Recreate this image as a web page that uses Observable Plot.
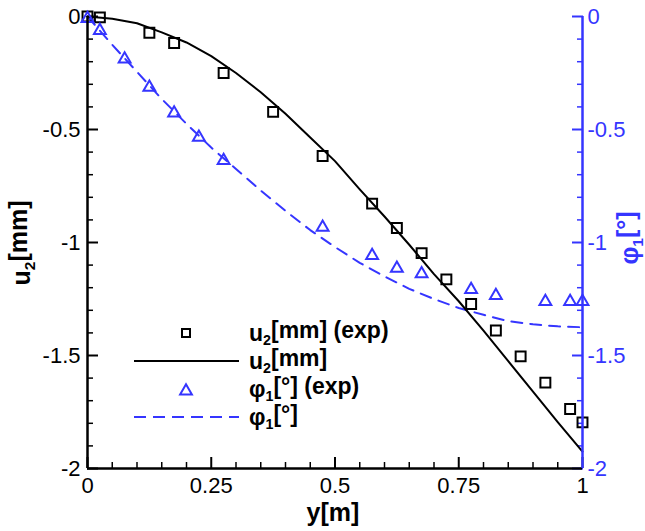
<!DOCTYPE html>
<html><head><meta charset="utf-8">
<script src="https://cdn.jsdelivr.net/npm/d3@7"></script>
<script src="https://cdn.jsdelivr.net/npm/@observablehq/plot@0.6"></script>
<style>
body{margin:0;background:#fff;}
svg{font-family:"Liberation Sans",Arial,sans-serif;}
</style>
</head><body><div id="chart"></div>
<script>
// ---- tick definitions ----
const xTicks = [0, 0.25, 0.5, 0.75, 1];
const xTickLabels = ["0", "0.25", "0.5", "0.75", "1"];
const xMinorTicks = [0.05, 0.1, 0.15, 0.2, 0.3, 0.35, 0.4, 0.45, 0.55, 0.6, 0.65, 0.7, 0.8, 0.85, 0.9, 0.95];
const yTicks = [0, -0.5, -1, -1.5, -2];
const yTickLabels = ["0", "-0.5", "-1", "-1.5", "-2"];
const yMinorTicks = [-0.1, -0.2, -0.3, -0.4, -0.6, -0.7, -0.8, -0.9, -1.1, -1.2, -1.3, -1.4, -1.6, -1.7, -1.8, -1.9];

// ---- experimental u2 [mm] (squares) ----
const u2ExpY = [0, 0.025, 0.125, 0.175, 0.275, 0.375, 0.475, 0.575, 0.625, 0.675, 0.725, 0.775, 0.825, 0.875, 0.925, 0.975, 1.0];
const u2ExpV = [0, -0.004, -0.072, -0.117, -0.25, -0.422, -0.617, -0.828, -0.936, -1.047, -1.163, -1.272, -1.389, -1.504, -1.62, -1.737, -1.796];

// ---- experimental phi1 [deg] (triangles) ----
const phiExpY = [0, 0.025, 0.075, 0.125, 0.175, 0.225, 0.275, 0.475, 0.575, 0.625, 0.675, 0.775, 0.825, 0.925, 0.975, 1.0];
const phiExpV = [0, -0.053, -0.18, -0.305, -0.418, -0.526, -0.629, -0.924, -1.049, -1.105, -1.13, -1.2, -1.226, -1.253, -1.253, -1.253];

// ---- model curves ----
const modelY = [0, 0.05, 0.1, 0.15, 0.2, 0.25, 0.3, 0.35, 0.4, 0.45, 0.5, 0.55, 0.6, 0.65, 0.7, 0.75, 0.8, 0.85, 0.9, 0.95, 1.0];
const modelU2 = [0, -0.01, -0.03, -0.07, -0.115, -0.175, -0.25, -0.335, -0.43, -0.535, -0.64, -0.765, -0.885, -1.01, -1.14, -1.26, -1.39, -1.525, -1.66, -1.795, -1.925];
const modelPhi = [0, -0.125, -0.245, -0.365, -0.475, -0.58, -0.675, -0.77, -0.86, -0.945, -1.02, -1.09, -1.15, -1.205, -1.25, -1.29, -1.32, -1.348, -1.362, -1.371, -1.375];

const BLUE = "#3535ff";

const u2Exp = u2ExpY.map((y, i) => ({y, v: u2ExpV[i]}));
const phiExp = phiExpY.map((y, i) => ({y, v: phiExpV[i]}));
const model = modelY.map((y, i) => ({y, u2: modelU2[i], phi: modelPhi[i]}));

const fmt = (ticks, labels) => d => { const i = ticks.findIndex(t => Math.abs(t - d) < 1e-9); return i >= 0 ? labels[i] : ""; };

const plot = Plot.plot({
  width: 645,
  height: 531,
  marginLeft: 87,
  marginRight: 63,
  marginTop: 16,
  marginBottom: 63,
  style: {fontFamily: "Liberation Sans, Arial, sans-serif", background: "#fff", overflow: "visible"},
  x: {domain: [0, 1]},
  y: {domain: [-2, 0]},
  marks: [
    // minor ticks
    Plot.axisY(yMinorTicks, {anchor: "left", tickSize: -6, tickFormat: () => "", label: null, strokeWidth: 1.5}),
    Plot.axisY(yMinorTicks, {anchor: "right", tickSize: -6, tickFormat: () => "", label: null, color: BLUE, strokeWidth: 1.5}),
    Plot.axisX(xMinorTicks, {anchor: "bottom", tickSize: -6, tickFormat: () => "", label: null, strokeWidth: 1.5}),
    // major ticks + labels
    Plot.axisY(yTicks, {anchor: "left", tickSize: -11, tickPadding: 18, tickFormat: fmt(yTicks, yTickLabels), label: null, fontSize: 22, strokeWidth: 2}),
    Plot.axisY(yTicks, {anchor: "right", tickSize: -11, tickPadding: 16, tickFormat: fmt(yTicks, yTickLabels), label: null, fontSize: 22, color: BLUE, strokeWidth: 2}),
    Plot.axisX(xTicks, {anchor: "bottom", tickSize: -11, tickPadding: 20, tickFormat: fmt(xTicks, xTickLabels), label: null, fontSize: 22, strokeWidth: 2}),
    // model curves
    Plot.line(model, {x: "y", y: "phi", stroke: BLUE, strokeWidth: 2, strokeDasharray: "11,8"}),
    Plot.line(model, {x: "y", y: "u2", stroke: "black", strokeWidth: 2}),
    // experimental points
    Plot.dot(u2Exp, {x: "y", y: "v", symbol: "square", r: 5.6, stroke: "black", strokeWidth: 2, fill: "none"}),
    Plot.dot(phiExp, {x: "y", y: "v", symbol: "triangle", r: 4.4, stroke: BLUE, strokeWidth: 2, fill: "none", dy: 2}),
    // frame lines
    Plot.ruleX([0], {stroke: "black", strokeWidth: 2.5}),
    Plot.ruleY([-2], {stroke: "black", strokeWidth: 2.5}),
    Plot.ruleX([1], {stroke: BLUE, strokeWidth: 2.5})
  ]
});

document.getElementById("chart").appendChild(plot);

// ---- titles and legend ----
const svg = d3.select(plot);
function richText(g, parts, attrs) {
  const t = g.append("text");
  for (const [k, v] of Object.entries(attrs)) t.attr(k, v);
  parts.forEach(p => {
    const s = t.append("tspan").text(p.t);
    if (p.sub) s.attr("font-size", "62%").attr("dy", "0.3em");
    if (p.after) s.attr("dy", "-0.3em");
  });
  return t;
}
const u2Label = [{t: "u"}, {t: "2", sub: true}, {t: "[mm]", after: true}];
const phiLabel = [{t: "φ"}, {t: "1", sub: true}, {t: "[°]", after: true}];

richText(svg, u2Label, {transform: "translate(30,243) rotate(-90)", "text-anchor": "middle", "font-weight": "bold", "font-size": 25, fill: "black"});
richText(svg, phiLabel, {transform: "translate(638,238) rotate(-90)", "text-anchor": "middle", "font-weight": "bold", "font-size": 25, fill: BLUE});
svg.append("text").attr("x", 333).attr("y", 521).attr("text-anchor", "middle").attr("font-weight", "bold").attr("font-size", 25).text("y[m]");

// legend
const legendEntries = [
  {parts: [{t: "u"}, {t: "2", sub: true}, {t: "[mm] (exp)", after: true}], kind: "square"},
  {parts: [{t: "u"}, {t: "2", sub: true}, {t: "[mm]", after: true}], kind: "solid"},
  {parts: [{t: "φ"}, {t: "1", sub: true}, {t: "[°] (exp)", after: true}], kind: "triangle"},
  {parts: [{t: "φ"}, {t: "1", sub: true}, {t: "[°]", after: true}], kind: "dashed"}
];
const lg = svg.append("g").attr("text-anchor", "start");
legendEntries.forEach((e, i) => {
  const cy = 333 + i * 28;
  if (e.kind === "square") lg.append("rect").attr("x", 182).attr("y", cy - 4).attr("width", 8).attr("height", 8).attr("fill", "none").attr("stroke", "black").attr("stroke-width", 2);
  if (e.kind === "triangle") lg.append("path").attr("d", d3.symbol(d3.symbolTriangle, 60)()).attr("transform", `translate(186,${cy + 2})`).attr("fill", "none").attr("stroke", BLUE).attr("stroke-width", 2);
  if (e.kind === "solid") lg.append("line").attr("x1", 134).attr("x2", 239).attr("y1", cy).attr("y2", cy).attr("stroke", "black").attr("stroke-width", 2);
  if (e.kind === "dashed") lg.append("line").attr("x1", 134).attr("x2", 239).attr("y1", cy).attr("y2", cy).attr("stroke", BLUE).attr("stroke-width", 2).attr("stroke-dasharray", "12,7");
  richText(lg, e.parts, {x: 249, y: cy + 8, "text-anchor": "start", "font-weight": "bold", "font-size": 23, fill: "black"});
});
</script>
</body></html>
